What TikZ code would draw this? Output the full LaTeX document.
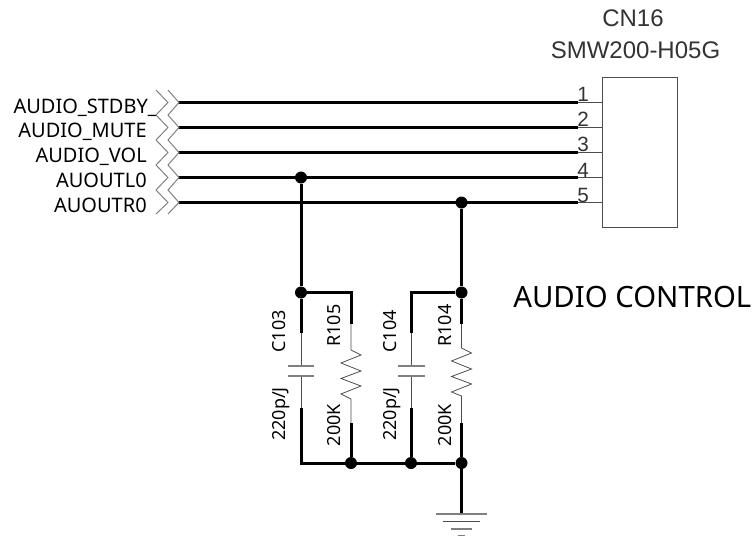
\documentclass[tikz,border=0pt]{standalone}
\usepackage{tikz}
\usepackage{fontspec}
\setmainfont{Noto Sans}
\newfontfamily\thinfont{Liberation Sans}
\tikzset{
	wire/.style={line width=2.25pt, black},
	lead/.style={line width=0.6pt, black!70},
	partline/.style={line width=0.9pt, gray},
	junction/.style={circle, fill=black, inner sep=0pt, minimum size=9pt},
	netlabel/.style={anchor=east, inner sep=0pt, text height=10.7pt, text depth=0pt, font=\fontsize{15}{16}\selectfont},
	pinlabel/.style={inner sep=0pt, text=black!80, font=\thinfont\fontsize{15.5}{16}\selectfont},
	partlabel/.style={rotate=90, inner sep=0pt, text height=9.6pt, text depth=0pt, font=\fontsize{13.5}{14}\selectfont},
	cnlabel/.style={inner sep=0pt, text=black!80, font=\thinfont\fontsize{18}{20}\selectfont},
}
\begin{document}
\begin{tikzpicture}[x=0.75pt,y=-0.75pt]
	\useasboundingbox (0,0) rectangle (754,536);
	%% ========================================================
	\begin{scope}
		\node[cnlabel] (cnname) at (633,18) {CN16};
		\node[cnlabel] (cntype) at (635.5,50) {SMW200-H05G};
		\node[draw=black!70, line width=0.6pt, minimum width=56.25pt, minimum height=112.5pt, inner sep=0pt] (cn) at (639.5,152) {};

		\coordinate (pin1) at (602,102.5);
		\coordinate (pin2) at (602,127.5);
		\coordinate (pin3) at (602,152.5);
		\coordinate (pin4) at (602,177.5);
		\coordinate (pin5) at (602,202.5);
		\coordinate (end1) at (578,102.5);
		\coordinate (end2) at (578,127.5);
		\coordinate (end3) at (578,152.5);
		\coordinate (end4) at (578,177.5);
		\coordinate (end5) at (578,202.5);
		\coordinate (net1) at (178,102.5);
		\coordinate (net2) at (178,127.5);
		\coordinate (net3) at (178,152.5);
		\coordinate (net4) at (178,177.5);
		\coordinate (net5) at (178,202.5);

		\draw[wire] (net1) -- (end1);
		\draw[wire] (net2) -- (end2);
		\draw[wire] (net3) -- (end3);
		\draw[wire] (net4) -- (end4);
		\draw[wire] (net5) -- (end5);
		\draw[lead] (end1) -- (pin1);
		\draw[lead] (end2) -- (pin2);
		\draw[lead] (end3) -- (pin3);
		\draw[lead] (end4) -- (pin4);
		\draw[lead] (end5) -- (pin5);

		\node[pinlabel] (num1) at (583,94) {1};
		\node[pinlabel] (num2) at (583,119) {2};
		\node[pinlabel] (num3) at (583,144) {3};
		\node[pinlabel] (num4) at (583,170) {4};
		\node[pinlabel] (num5) at (583,195) {5};

		\node[netlabel] (stdby) at (157,106) {AUDIO\_STDBY\_};
		\node[netlabel] (mute) at (147,130.5) {AUDIO\_MUTE};
		\node[netlabel] (vol) at (147,155) {AUDIO\_VOL};
		\node[netlabel] (outl) at (147,180) {AUOUTL0};
		\node[netlabel] (outr) at (147,205) {AUOUTR0};

		\draw[partline, line width=0.75pt] (156,90) -- (168,102.5) -- (156,115) -- (168,127.5) -- (156,140) -- (168,152.5) -- (156,165) -- (168,177.5) -- (156,190) -- (168,202.5) -- (156,214);
		\draw[partline, line width=0.75pt] (168,90) -- (179,102.5) -- (168,115) -- (179,127.5) -- (168,140) -- (179,152.5) -- (168,165) -- (179,177.5) -- (168,190) -- (179,202.5) -- (168,214);
	\end{scope}
	%% ========================================================
	\begin{scope}
		\node[junction] (jout) at (301,177.5) {};
		\node[junction] (jctop) at (301,292.5) {};
		\node[junction] (jroutr) at (461.5,202.5) {};
		\node[junction] (jrtop) at (461.5,292.5) {};
		\node[junction] (jrbot) at (351,463) {};
		\node[junction] (jcbot) at (411,463) {};
		\node[junction] (jgnd) at (461.5,463) {};

		\coordinate (c103top) at (301,333);
		\coordinate (c103a) at (301,366);
		\coordinate (c103b) at (301,376);
		\coordinate (c103low) at (301,408);
		\coordinate (c103bot) at (301,463);
		\coordinate (c104top) at (411,333);
		\coordinate (c104a) at (411,366);
		\coordinate (c104b) at (411,376);
		\coordinate (c104low) at (411,408);
		\coordinate (c104head) at (411,292.5);
		\coordinate (r105head) at (351,292.5);
		\coordinate (r105top) at (351,324);
		\coordinate (r105a) at (351,350);
		\coordinate (r105b) at (351,399);
		\coordinate (r105low) at (351,423);
		\coordinate (r104top) at (461.5,324);
		\coordinate (r104a) at (461.5,348);
		\coordinate (r104b) at (461.5,396);
		\coordinate (r104low) at (461.5,423);
		\coordinate (gndtop) at (461.5,514);

		\draw[wire] (jout) -- (jctop) -- (c103top);
		\draw[wire] (jroutr) -- (jrtop) -- (r104top);
		\draw[wire] (jctop) -- (r105head) -- (r105top);
		\draw[wire] (jrtop) -- (c104head) -- (c104top);
		\draw[wire] (c103low) -- (c103bot) -- (jgnd) -- (gndtop);
		\draw[wire] (r105low) -- (jrbot);
		\draw[wire] (c104low) -- (jcbot);
		\draw[wire] (r104low) -- (jgnd);

		\draw[lead] (c103top) -- (c103a);
		\draw[lead] (c103b) -- (c103low);
		\draw[partline] (287.5,366) -- (314,366);
		\draw[partline] (287.5,376) -- (314,376);
		\draw[lead] (c104top) -- (c104a);
		\draw[lead] (c104b) -- (c104low);
		\draw[partline] (398,366) -- (424.5,366);
		\draw[partline] (398,376) -- (424.5,376);

		\draw[lead] (r105top) -- (r105a) -- ++(10,5) -- ++(-20,8) -- ++(20,8) -- ++(-20,7.5) -- ++(20,7.5) -- ++(-20,8) -- (r105b) -- (r105low);
		\draw[lead] (r104top) -- (r104a) -- ++(10,5) -- ++(-20,8) -- ++(20,8) -- ++(-20,7.5) -- ++(20,7.5) -- ++(-20,8) -- (r104b) -- (r104low);

		\node[partlabel] (c103name) at (279.5,331.5) {C103};
		\node[partlabel] (c103val) at (279.5,414) {220p/J};
		\node[partlabel] (r105name) at (334.5,325.5) {R105};
		\node[partlabel] (r105val) at (334.5,425) {200K};
		\node[partlabel] (c104name) at (390,331.5) {C104};
		\node[partlabel] (c104val) at (390,414) {220p/J};
		\node[partlabel] (r104name) at (445,325.5) {R104};
		\node[partlabel] (r104val) at (445,425) {200K};

		\draw[partline] (436,514) -- (487,514);
		\draw[lead] (443,521.5) -- (480,521.5);
		\draw[partline] (451,529) -- (472,529);
		\draw[partline] (458,535.5) -- (465,535.5);
	\end{scope}
	%% ========================================================
	\node[inner sep=0pt, anchor=west, font=\fontsize{22}{24}\selectfont] (title) at (513,297) {AUDIO CONTROL};
\end{tikzpicture}
\end{document}
